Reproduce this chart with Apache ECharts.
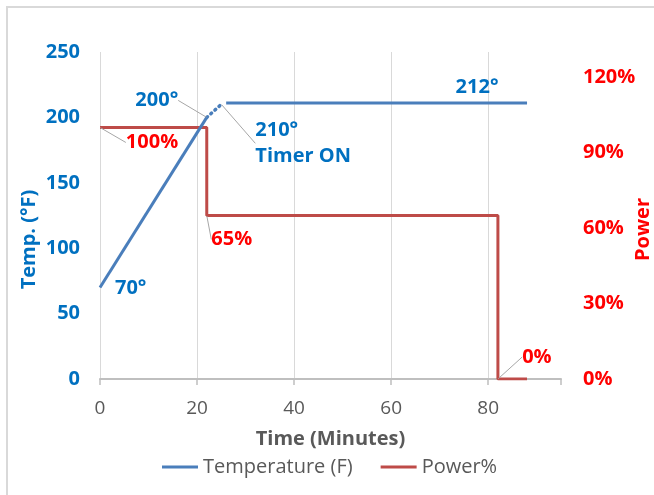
<!DOCTYPE html>
<html>
<head>
<meta charset="utf-8">
<script src="https://cdn.jsdelivr.net/npm/echarts@6/dist/echarts.min.js"></script>
<style>
html,body{margin:0;padding:0;background:#fff;}
#frame{position:absolute;left:6px;top:6px;width:700px;height:600px;border-left:2px solid #D9D9D9;border-top:2px solid #D9D9D9;box-sizing:border-box;}
#main{position:absolute;left:0;top:0;width:654px;height:495px;}
</style>
</head>
<body>
<div id="frame"></div>
<div id="main"></div>
<script>
// ---- data ----
const xTicks = [0, 20, 40, 60, 80];
const tempTicks = [0, 50, 100, 150, 200, 250];
const powerTicks = [0, 30, 60, 90, 120];

const tempRiseTime = [0, 22];
const tempRise = [70, 200];
const tempRiseLabels = ['70°', '200°'];

const tempRampTime = [22, 25];
const tempRamp = [200, 210];
const tempRampLabels = ['', '210°\nTimer ON'];

const tempHoldTime = [26, 88];
const tempHold = [211, 211];
const tempHoldLabels = ['', '212°'];

const powerTime = [0, 22, 22, 82, 82, 88];
const powerPct = [100, 100, 65, 65, 0, 0];
const powerLabels = ['100%', '', '65%', '', '0%', ''];

// ---- label placement (relative to point, in px) ----
const labelPlace = {
  '0-0': {dx: 15, dy: 1, line: false, align: 'left'},
  '0-1': {dx: -50, dy: -17, line: true, align: 'center'},
  '1-1': {dx: 34, dy: 39, line: true, align: 'left'},
  '2-1': {dx: -50, dy: -16, line: false, align: 'center'},
  '3-0': {dx: 52, dy: 15, line: true, align: 'center'},
  '3-2': {dx: 25, dy: 24, line: true, align: 'center'},
  '3-4': {dx: 39, dy: -22, line: true, align: 'center'}
};

const BLUE_TXT = '#0070C0';
const RED_TXT = '#FF0000';
const BLUE = '#4A7EBB';
const RED = '#BE4B48';
const FONT = '"Open Sans", "Noto Sans", sans-serif';

function buildData(seriesIdx, xs, ys, labels, color) {
  return xs.map((x, i) => {
    const key = seriesIdx + '-' + i;
    const p = labelPlace[key];
    const item = {value: [x, ys[i]]};
    if (labels[i]) {
      item.label = {
        show: true,
        formatter: labels[i],
        position: 'inside',
        align: p ? p.align : 'center',
        verticalAlign: 'middle',
        color: color,
        fontFamily: FONT,
        fontWeight: 'bold',
        fontSize: 20,
        lineHeight: 26
      };
      item.labelLine = {show: !!(p && p.line), lineStyle: {color: '#A6A6A6', width: 1}};
    } else {
      item.label = {show: false};
    }
    return item;
  });
}

const chart = echarts.init(document.getElementById('main'), null, {renderer: 'canvas'});

const option = {
  backgroundColor: 'transparent',
  animation: false,
  grid: {left: 100, right: 93, top: 52, bottom: 116, containLabel: false, outerBoundsMode: 'none'},
  legend: {
    left: 157,
    top: 452,
    itemWidth: 36,
    itemHeight: 3,
    itemGap: 28,
    icon: 'rect',
    textStyle: {fontFamily: FONT, fontSize: 20, color: '#595959'},
    data: [
      {name: 'Temperature (F)', itemStyle: {color: BLUE, opacity: 1}},
      {name: 'Power%', itemStyle: {color: RED, opacity: 1}}
    ]
  },
  xAxis: {
    type: 'value',
    min: 0,
    max: 95,
    interval: 20,
    name: 'Time (Minutes)',
    nameLocation: 'middle',
    nameGap: 50,
    nameMoveOverlap: false,
    nameTextStyle: {fontFamily: FONT, fontSize: 20, fontWeight: 'bold', color: '#595959'},
    axisLine: {show: true, lineStyle: {color: '#BFBFBF', width: 2}},
    axisTick: {show: true, length: 6, lineStyle: {color: '#BFBFBF', width: 1.5}},
    axisLabel: {
      margin: 20,
      fontFamily: FONT, fontSize: 19, color: '#595959',
      formatter: v => (xTicks.indexOf(v) >= 0 ? String(v) : '')
    },
    splitLine: {show: true, lineStyle: {color: ['#D9D9D9', '#D9D9D9', '#D9D9D9', '#D9D9D9', '#D9D9D9', 'rgba(0,0,0,0)'], width: 1}}
  },
  yAxis: [
    {
      type: 'value',
      min: 0,
      max: 250,
      interval: 50,
      position: 'left',
      name: 'Temp. (°F)',
      nameLocation: 'middle',
      nameRotate: 90,
      nameGap: 61,
      nameMoveOverlap: false,
      nameTextStyle: {fontFamily: FONT, fontSize: 20, fontWeight: 'bold', color: BLUE_TXT, padding: [0, 48, 0, 0]},
      axisLine: {show: false},
      axisTick: {show: false},
      splitLine: {show: false},
      axisLabel: {
        margin: 20,
        fontFamily: FONT, fontSize: 20, fontWeight: 'bold', color: BLUE_TXT,
        formatter: v => (tempTicks.indexOf(v) >= 0 ? String(v) : '')
      }
    },
    {
      type: 'value',
      min: 0,
      max: 130,
      interval: 30,
      position: 'right',
      name: 'Power',
      nameLocation: 'middle',
      nameRotate: 90,
      nameGap: 72,
      nameMoveOverlap: false,
      nameTextStyle: {fontFamily: FONT, fontSize: 20, fontWeight: 'bold', color: RED_TXT, padding: [0, 28, 0, 0]},
      axisLine: {show: false},
      axisTick: {show: false},
      splitLine: {show: false},
      axisLabel: {
        margin: 22,
        fontFamily: FONT, fontSize: 20, fontWeight: 'bold', color: RED_TXT,
        formatter: v => (powerTicks.indexOf(v) >= 0 ? v + '%' : '')
      }
    }
  ],
  labelLayout: function (params) {
    const p = labelPlace[params.seriesIndex + '-' + params.dataIndex];
    if (!p) return {};
    const cx = params.rect.x + params.rect.width / 2;
    const cy = params.rect.y + params.rect.height / 2;
    return {x: cx + p.dx, y: cy + p.dy};
  },
  series: [
    {
      name: 'Temperature (F)',
      type: 'line',
      yAxisIndex: 0,
      symbol: 'circle',
      symbolSize: 1,
      showSymbol: true,
      itemStyle: {color: 'rgba(0,0,0,0)', borderWidth: 0},
      lineStyle: {color: BLUE, width: 3},
      data: buildData(0, tempRiseTime, tempRise, tempRiseLabels, BLUE_TXT),
      z: 3
    },
    {
      name: 'Temperature (F)',
      type: 'line',
      yAxisIndex: 0,
      symbol: 'circle',
      symbolSize: 1,
      showSymbol: true,
      itemStyle: {color: 'rgba(0,0,0,0)', borderWidth: 0},
      lineStyle: {color: BLUE, width: 3.5, type: [1, 4.5], cap: 'round'},
      data: buildData(1, tempRampTime, tempRamp, tempRampLabels, BLUE_TXT),
      z: 3
    },
    {
      name: 'Temperature (F)',
      type: 'line',
      yAxisIndex: 0,
      symbol: 'circle',
      symbolSize: 1,
      showSymbol: true,
      itemStyle: {color: 'rgba(0,0,0,0)', borderWidth: 0},
      lineStyle: {color: BLUE, width: 3},
      data: buildData(2, tempHoldTime, tempHold, tempHoldLabels, BLUE_TXT),
      z: 3
    },
    {
      name: 'Power%',
      type: 'line',
      yAxisIndex: 1,
      symbol: 'circle',
      symbolSize: 1,
      showSymbol: true,
      itemStyle: {color: 'rgba(0,0,0,0)', borderWidth: 0},
      lineStyle: {color: RED, width: 3},
      data: buildData(3, powerTime, powerPct, powerLabels, RED_TXT),
      z: 2
    }
  ]
};

chart.setOption(option);
</script>
</body>
</html>
